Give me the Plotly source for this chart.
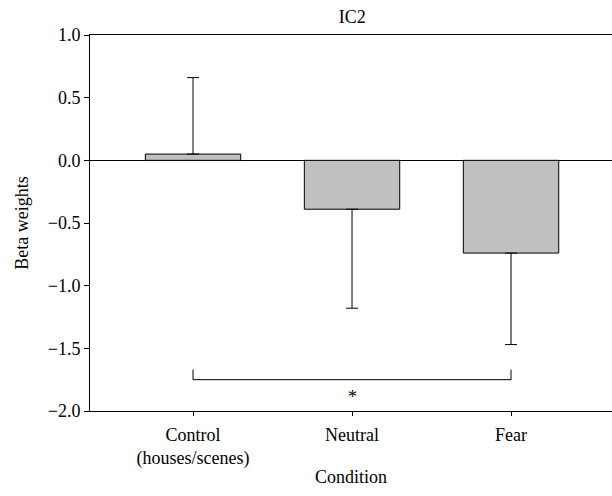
import plotly.graph_objects as go

categories = ["Control<br>(houses/scenes)", "Neutral", "Fear"]
values = [0.05, -0.39, -0.74]
err_plus = [0.61, 0.0, 0.0]
err_minus = [0.0, 0.79, 0.73]
y_ticks = [1.0, 0.5, 0.0, -0.5, -1.0, -1.5, -2.0]
y_ticktext = ["1.0", "0.5", "0.0", "\u22120.5", "\u22121.0", "\u22121.5", "\u22122.0"]

bracket_from, bracket_to = 0, 2
bracket_y, bracket_tip_y = -1.75, -1.67
star_y = -1.89

FONT = "Liberation Serif, DejaVu Serif, serif"
F = dict(family=FONT, size=18, color="black")
xpos = list(range(len(categories)))

fig = go.Figure()
fig.add_trace(go.Bar(
    x=xpos, y=values, width=0.6,
    marker=dict(color="#c0c0c0", line=dict(color="black", width=1)),
    error_y=dict(type="data", symmetric=False, array=err_plus, arrayminus=err_minus,
                 color="black", thickness=1, width=6),
    showlegend=False,
))

# significance bracket
fig.add_trace(go.Scatter(
    x=[bracket_from, bracket_from, bracket_to, bracket_to],
    y=[bracket_tip_y, bracket_y, bracket_y, bracket_tip_y],
    mode="lines", line=dict(color="black", width=1), showlegend=False, hoverinfo="skip",
))
fig.add_annotation(x=(bracket_from + bracket_to) / 2, y=star_y, text="*", showarrow=False,
                   font=F)

fig.update_layout(
    width=612, height=496,
    margin=dict(l=90, r=0, t=35, b=85),
    plot_bgcolor="white", paper_bgcolor="white",
    font=F,
    title=dict(text="IC2", x=0.5755, xanchor="center", y=0.966, yanchor="middle",
               font=F),
    xaxis=dict(
        range=[-0.648, 2.635], tickvals=xpos, ticktext=categories, tickfont=F,
        showline=True, linecolor="black", linewidth=1, mirror=True,
        ticks="outside", ticklen=4, tickcolor="black", ticklabelstandoff=3,
        showgrid=False, zeroline=False,
        title=dict(text="Condition", standoff=2, font=F),
    ),
    yaxis=dict(
        range=[-2.0, 1.0], tickvals=y_ticks, ticktext=y_ticktext, tickfont=F,
        showline=True, linecolor="black", linewidth=1,
        ticks="outside", ticklen=5, tickcolor="black",
        showgrid=False, zeroline=True, zerolinecolor="black", zerolinewidth=1,
        title=dict(text="Beta weights", standoff=14, font=F),
    ),
)

fig.write_html("out.html")
